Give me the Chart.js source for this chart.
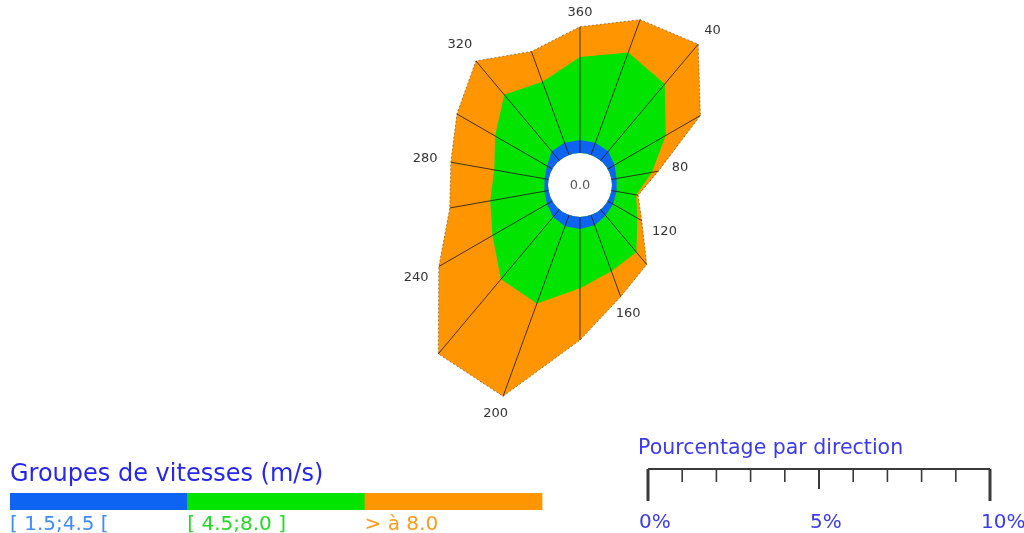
<!DOCTYPE html>
<html>
<head>
<meta charset="utf-8">
<script src="https://cdn.jsdelivr.net/npm/chart.js@4.4.1/dist/chart.umd.min.js"></script>
<style>
  html, body { margin: 0; padding: 0; background: #fff; }
  #wrap { position: relative; width: 1024px; height: 533px; overflow: hidden; }
  #rose { position: absolute; left: 0; top: -215px; }
</style>
</head>
<body>
<div id="wrap"><canvas id="rose" width="1160" height="800"></canvas></div>
<script>
// Wind directions (degrees, clockwise from north)
const DIRECTIONS = [360, 20, 40, 60, 80, 100, 120, 140, 160, 180, 200, 220, 240, 260, 280, 300, 320, 340];
const LABELLED_DIRECTIONS = [360, 40, 80, 120, 160, 200, 240, 280, 320];

// Speed groups (m/s)
const SPEED_GROUPS = ['[ 1.5;4.5 [', '[ 4.5;8.0 ]', '> à 8.0'];

// Frequency (% of observations) per direction, one array per speed group
const PCT_1_5_TO_4_5 = [0.38, 0.38, 0.35, 0.23, 0.15, 0.15, 0.18, 0.23, 0.32, 0.35, 0.35, 0.29, 0.18, 0.12, 0.12, 0.18, 0.35, 0.38];
const PCT_4_5_TO_8_0 = [2.43, 2.81, 2.57, 1.73, 1.05, 0.58, 0.82, 1.40, 1.43, 1.73, 2.40, 2.37, 1.84, 1.61, 1.49, 1.75, 2.16, 1.90];
const PCT_ABOVE_8_0  = [0.88, 1.02, 1.52, 1.17, 0.19, 0.06, 0.15, 0.47, 0.79, 1.52, 2.89, 2.85, 1.81, 1.20, 1.29, 1.29, 1.29, 0.94];

// Calm percentage shown in the centre
const CALM_PCT = 0.0;

// Percentage scale bar
const SCALE_MAX_PCT = 10;
const SCALE_LABELS = [0, 5, 10];

// ---- styling / layout ----
const COLORS = ['#0d64f2', '#00e400', '#ff9500'];
const LABEL_COLORS = ['#3f8cff', '#22dc22', '#ff9a1a'];
const PX_PER_PCT = 34.2;   // radial pixels per percent
const HOLE_R = 32;         // radius of the calm circle
const PAGE_DY = 215;       // canvas is shifted up by this much
const DRAW_R = 400;        // radial drawing area of the canvas

// cumulative rings
const ringLow = PCT_1_5_TO_4_5.slice();
const ringMid = PCT_4_5_TO_8_0.map((v, i) => v + ringLow[i]);
const ringAll = PCT_ABOVE_8_0.map((v, i) => v + ringMid[i]);

const rMin = -HOLE_R / PX_PER_PCT;
const rMax = rMin + DRAW_R / PX_PER_PCT;

const FONT = '"DejaVu Sans", Verdana, sans-serif';

const roseDecor = {
  id: 'roseDecor',
  afterDatasetsDraw(chart) {
    const s = chart.scales.r;
    const ctx = chart.ctx;
    ctx.save();
    // spokes from the calm circle to the outer edge
    ctx.strokeStyle = 'rgba(40,30,20,0.85)';
    ctx.lineWidth = 1;
    DIRECTIONS.forEach((d, i) => {
      const a = s.getPointPositionForValue(i, 0);
      const b = s.getPointPositionForValue(i, ringAll[i]);
      ctx.beginPath();
      ctx.moveTo(a.x, a.y);
      ctx.lineTo(b.x, b.y);
      ctx.stroke();
    });
    // direction labels beyond each labelled vertex
    ctx.font = '13px ' + FONT;
    ctx.fillStyle = '#333';
    ctx.textAlign = 'center';
    ctx.textBaseline = 'middle';
    LABELLED_DIRECTIONS.forEach(d => {
      const i = DIRECTIONS.indexOf(d);
      const ang = s.getIndexAngle(i);
      const txt = String(d);
      const hw = ctx.measureText(txt).width / 2;
      const hh = 5;
      const sn = Math.sin(ang), cs = Math.cos(ang);
      const dist = s.getDistanceFromCenterForValue(ringAll[i]) + 9 +
        hw * Math.abs(sn) + hh * Math.abs(cs);
      const p = s.getPointPosition(i, dist);
      ctx.fillText(txt, p.x + 4 * sn, p.y);
    });
    // calm value
    ctx.fillStyle = '#555';
    ctx.font = '13px ' + FONT;
    ctx.fillText(CALM_PCT.toFixed(1), s.xCenter, s.yCenter + 1);
    ctx.restore();
  },
  afterDraw(chart) {
    const s = chart.scales.r;
    const ctx = chart.ctx;
    ctx.save();
    ctx.translate(0, PAGE_DY);
    // speed-group legend
    ctx.textAlign = 'left';
    ctx.textBaseline = 'alphabetic';
    ctx.fillStyle = '#2727ea';
    ctx.font = '24px ' + FONT;
    ctx.fillText('Groupes de vitesses (m/s)', 10, 481);
    const segW = 177.3;
    SPEED_GROUPS.forEach((g, k) => {
      const x = 10 + k * segW;
      ctx.fillStyle = COLORS[k];
      ctx.fillRect(x, 493, segW + 0.5, 17);
      ctx.fillStyle = LABEL_COLORS[k];
      ctx.font = '20px ' + FONT;
      ctx.fillText(g, x, 530);
    });
    // percentage scale bar
    const x0 = 648, y0 = 469;
    const unit = s.getDistanceFromCenterForValue(1) - s.getDistanceFromCenterForValue(0);
    ctx.fillStyle = '#3a3af0';
    ctx.font = '20.5px ' + FONT;
    ctx.fillText('Pourcentage par direction', 638, 454);
    ctx.strokeStyle = '#3a3a3a';
    ctx.lineWidth = 2;
    ctx.beginPath();
    ctx.moveTo(x0, y0);
    ctx.lineTo(x0 + SCALE_MAX_PCT * unit, y0);
    ctx.stroke();
    for (let p = 0; p <= SCALE_MAX_PCT; p++) {
      const x = x0 + p * unit;
      const major = p === 0 || p === SCALE_MAX_PCT;
      const mid = p === SCALE_MAX_PCT / 2;
      ctx.lineWidth = major ? 3 : (mid ? 2 : 1.6);
      ctx.beginPath();
      ctx.moveTo(x, y0);
      ctx.lineTo(x, y0 + (major ? 32 : (mid ? 20 : 13)));
      ctx.stroke();
    }
    ctx.fillStyle = '#3a3af0';
    ctx.font = '20px ' + FONT;
    SCALE_LABELS.forEach(p => {
      ctx.fillText(p + '%', x0 + p * unit - 9, 528);
    });
    ctx.restore();
  }
};

new Chart(document.getElementById('rose'), {
  type: 'radar',
  data: {
    labels: DIRECTIONS.map(String),
    datasets: [
      { label: SPEED_GROUPS[0], data: ringLow, backgroundColor: COLORS[0], borderWidth: 0, fill: 'origin' },
      { label: SPEED_GROUPS[1], data: ringMid, backgroundColor: COLORS[1], borderWidth: 0, fill: 'origin' },
      { label: SPEED_GROUPS[2], data: ringAll, backgroundColor: COLORS[2], fill: 'origin',
        borderColor: 'rgba(90,60,20,0.55)', borderWidth: 1, borderDash: [2, 2] }
    ]
  },
  options: {
    responsive: false,
    animation: false,
    devicePixelRatio: 1,
    layout: { padding: 0 },
    elements: { point: { radius: 0, hoverRadius: 0 }, line: { tension: 0 } },
    datasets: { radar: { clip: false } },
    scales: {
      r: {
        min: rMin,
        max: rMax,
        startAngle: 0,
        grid: { display: false, circular: true },
        angleLines: { display: false },
        ticks: { display: false },
        pointLabels: { display: false }
      }
    },
    plugins: { legend: { display: false }, tooltip: { enabled: false } }
  },
  plugins: [roseDecor]
});
</script>
</body>
</html>
